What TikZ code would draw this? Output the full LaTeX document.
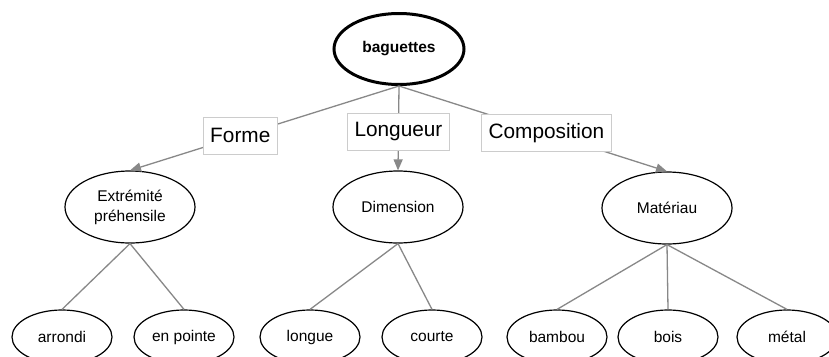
\documentclass[tikz,border=0pt]{standalone}
\usepackage{fontspec}
\setmainfont{Liberation Sans}
\usetikzlibrary{shapes.geometric,arrows.meta}
\definecolor{edgegray}{HTML}{888888}
\definecolor{boxgray}{HTML}{CCCCCC}
\tikzset{
  rootnode/.style={ellipse, draw=black, line width=3pt, fill=white, minimum width=130pt, minimum height=71pt, inner sep=0pt, font=\fontsize{15.5}{19}\selectfont\bfseries},
  midnode/.style={ellipse, draw=black, line width=1.2pt, fill=white, minimum width=130pt, minimum height=72pt, inner sep=0pt, align=center, font=\fontsize{15.5}{20}\selectfont},
  leafnode/.style={ellipse, draw=black, line width=1.2pt, fill=white, minimum width=100pt, minimum height=54pt, inner sep=0pt, font=\fontsize{15.5}{19}\selectfont},
  conn/.style={draw=edgegray, line width=1.3pt},
  arrowconn/.style={conn, -{Triangle[width=9pt,length=11pt]}, edgegray},
  lbl/.style={draw=boxgray, line width=0.8pt, fill=white, inner xsep=7pt, minimum height=37pt, font=\fontsize{20.8}{24}\selectfont}
}
\begin{document}
\begin{tikzpicture}[x=1pt,y=-1pt]
\useasboundingbox[fill=white] (0,0) rectangle (829,356);
\node[rootnode] (root) at (399,49) {baguettes};
\node[midnode] (ext) at (130,207) {Extrémité\\préhensile};
\node[midnode] (dim) at (398,207) {Dimension};
\node[midnode] (mat) at (667,208) {Matériau};
\node[leafnode] (arr) at (62,337) {arrondi};
\node[leafnode] (pte) at (184,337) {en pointe};
\node[leafnode] (lon) at (310,337) {longue};
\node[leafnode] (crt) at (432,337) {courte};
\node[leafnode] (bam) at (557,337) {bambou};
\node[leafnode] (boi) at (668,337) {bois};
\node[leafnode] (met) at (787,337) {métal};
\draw[arrowconn] (root.south) -- (ext.north) node[lbl, pos=0.59, text=black] {Forme};
\draw[arrowconn] (root.south) -- (dim.north) node[lbl, pos=0.54, text=black] {Longueur};
\draw[arrowconn] (root.south) -- (mat.north) node[lbl, pos=0.55, text=black] {Composition};
\draw[conn] (ext.south) -- (arr.north);
\draw[conn] (ext.south) -- (pte.north);
\draw[conn] (dim.south) -- (lon.north);
\draw[conn] (dim.south) -- (crt.north);
\draw[conn] (mat.south) -- (bam.north);
\draw[conn] (mat.south) -- (boi.north);
\draw[conn] (mat.south) -- (met.north);
\end{tikzpicture}
\end{document}
